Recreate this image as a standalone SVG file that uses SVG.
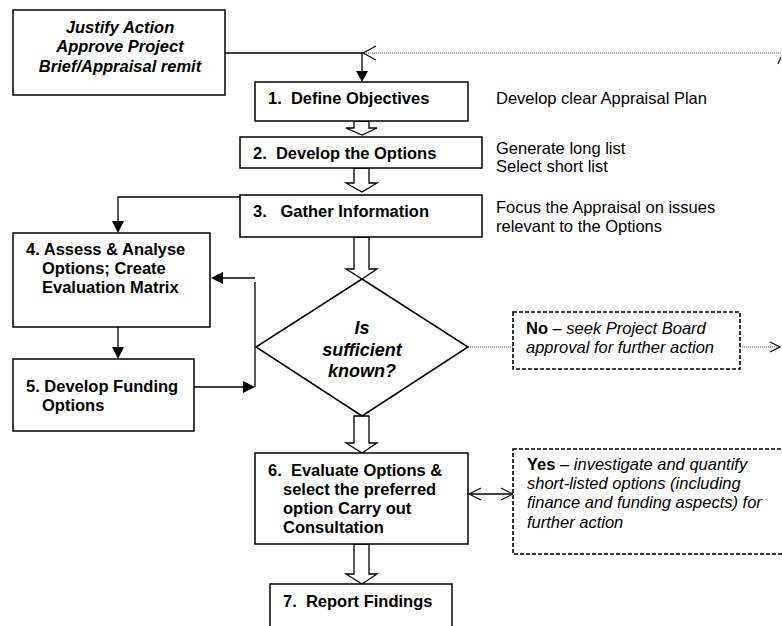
<svg xmlns="http://www.w3.org/2000/svg" width="782" height="626" viewBox="0 0 782 626">
  <defs>
    <style>
      .box { fill: #fff; stroke: #000; stroke-width: 1.5; }
      .dbox { fill: #fff; stroke: #000; stroke-width: 1.6; stroke-dasharray: 4 2; }
      .ln { fill: none; stroke: #000; stroke-width: 1.3; }
      .dot { fill: none; stroke: #555; stroke-width: 1; stroke-dasharray: 1 1; }
      .head { fill: #000; stroke: none; }
      .hollow { fill: #fff; stroke: #000; stroke-width: 1.3; }
      .open { fill: none; stroke: #000; stroke-width: 1.1; }
      text { font-family: "Liberation Sans", Arial, sans-serif; font-size: 16.5px; fill: #000; white-space: pre; }
      .b { font-weight: bold; }
      .bi { font-weight: bold; font-style: italic; }
      .i { font-style: italic; }
      .c { text-anchor: middle; }
    </style>
  </defs>

  <g id="connectors">
    <!-- start box to Define Objectives -->
    <path class="ln" d="M225,53 H362 V74"/>
    <polygon class="head" points="356,71 368,71 362,82"/>
    <!-- dotted return line along the top -->
    <path class="dot" d="M362,53 H782"/>
    <path class="open" d="M376,46 L363,53 L376,60"/>
    <path class="open" d="M778,64 L781,57"/>

    <!-- hollow arrows down the spine -->
    <path class="hollow" d="M354,121 V128 H346 L362,135 L377,128 H369 V121 Z"/>
    <path class="hollow" d="M354,168 V183 H346 L362,192 L377,183 H369 V168 Z"/>
    <path class="hollow" d="M354,237 V269 H346 L362,279 L377,269 H369 V237 Z"/>
    <path class="hollow" d="M354,416 V443 H346 L362,453 L377,443 H369 V416 Z"/>
    <path class="hollow" d="M354,544 V574 H346 L362,584 L377,574 H369 V544 Z"/>

    <!-- Gather Information to Assess & Analyse -->
    <path class="ln" d="M240,197 H118 V224"/>
    <polygon class="head" points="112,221 124,221 118,233"/>
    <!-- Assess to Funding -->
    <path class="ln" d="M118,327 V349"/>
    <polygon class="head" points="112,347 124,347 118,359"/>
    <!-- feedback loop -->
    <path class="ln" d="M194,387 H246"/>
    <polygon class="head" points="243,381 243,393 255,387"/>
    <path class="ln" d="M255,282 V387"/>
    <path class="ln" d="M255,278 H220"/>
    <polygon class="head" points="223,272 223,284 211,278"/>

    <!-- No branch -->
    <path class="dot" d="M468,347 H513"/>
    <path class="dot" d="M740,347 H780"/>
    <path class="open" d="M770,342 L780,347 L770,352"/>

    <!-- Yes branch double arrow -->
    <path class="ln" d="M469,494 H513"/>
    <path class="open" d="M481,488 L469,494 L481,500"/>
    <path class="open" d="M501,488 L513,494 L501,500"/>
  </g>

  <g id="start">
    <rect class="box" x="13" y="10" width="212" height="85"/>
    <text class="bi c" x="120" y="33">Justify Action</text>
    <text class="bi c" x="120" y="52">Approve Project</text>
    <text class="bi c" x="120" y="72">Brief/Appraisal remit</text>
  </g>

  <g id="n1">
    <rect class="box" x="255" y="82" width="213" height="39"/>
    <text class="b" x="268" y="104">1.  Define Objectives</text>
  </g>
  <text x="496" y="104">Develop clear Appraisal Plan</text>

  <g id="n2">
    <rect class="box" x="240" y="137" width="242" height="31"/>
    <text class="b" x="253" y="159">2.  Develop the Options</text>
  </g>
  <text x="496" y="154">Generate long list</text>
  <text x="496" y="172">Select short list</text>

  <g id="n3">
    <rect class="box" x="240" y="195" width="242" height="42"/>
    <text class="b" x="253" y="217">3.   Gather Information</text>
  </g>
  <text x="496" y="213">Focus the Appraisal on issues</text>
  <text x="496" y="232">relevant to the Options</text>

  <g id="n4">
    <rect class="box" x="13" y="233" width="197" height="94"/>
    <text class="b" x="26" y="255">4. Assess &amp; Analyse</text>
    <text class="b" x="42" y="274">Options; Create</text>
    <text class="b" x="42" y="293">Evaluation Matrix</text>
  </g>

  <g id="n5">
    <rect class="box" x="13" y="359" width="181" height="72"/>
    <text class="b" x="26" y="392">5. Develop Funding</text>
    <text class="b" x="42" y="411">Options</text>
  </g>

  <g id="decision">
    <polygon class="box" points="362,279 468,347 362,416 256,347"/>
    <text class="bi c" x="362" y="334" style="font-size:18px">Is</text>
    <text class="bi c" x="362" y="356" style="font-size:18px">sufficient</text>
    <text class="bi c" x="362" y="377" style="font-size:18px">known?</text>
  </g>

  <g id="no">
    <rect class="dbox" x="513" y="312" width="227" height="57"/>
    <text x="526" y="334"><tspan class="b">No</tspan><tspan class="i"> – seek Project Board</tspan></text>
    <text class="i" x="526" y="353">approval for further action</text>
  </g>

  <g id="n6">
    <rect class="box" x="255" y="453" width="213" height="91"/>
    <text class="b" x="268" y="476">6.  Evaluate Options &amp;</text>
    <text class="b" x="283" y="495">select the preferred</text>
    <text class="b" x="283" y="514">option Carry out</text>
    <text class="b" x="283" y="533">Consultation</text>
  </g>

  <g id="yes">
    <rect class="dbox" x="513" y="449" width="280" height="105"/>
    <text x="527" y="470"><tspan class="b">Yes</tspan><tspan class="i"> – investigate and quantify</tspan></text>
    <text class="i" x="527" y="489">short-listed options (including</text>
    <text class="i" x="527" y="508">finance and funding aspects) for</text>
    <text class="i" x="527" y="528">further action</text>
  </g>

  <g id="n7">
    <rect class="box" x="270" y="584" width="182" height="50"/>
    <text class="b" x="283" y="607">7.  Report Findings</text>
  </g>
</svg>
